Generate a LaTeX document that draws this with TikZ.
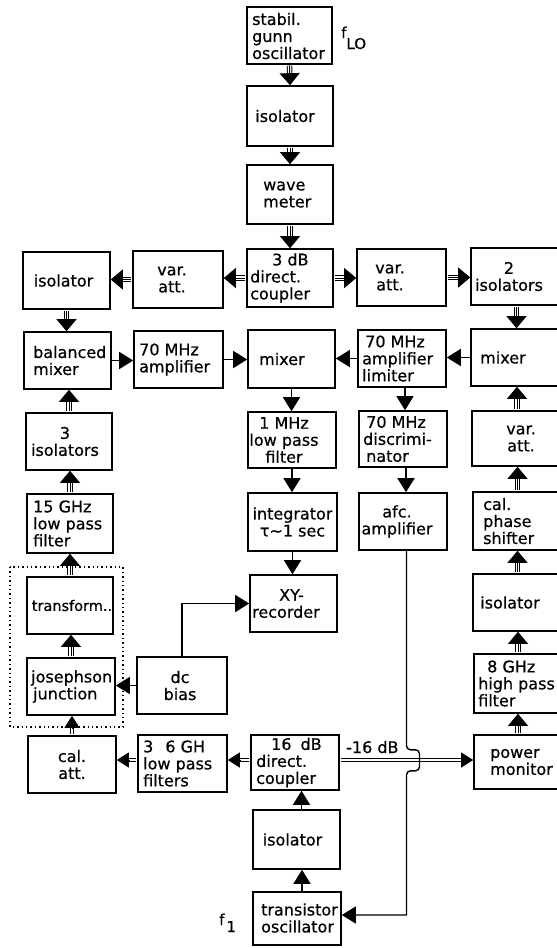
\documentclass[tikz,border=0pt]{standalone}
\usepackage{fontspec}
\setmainfont{DejaVu Sans}[FakeBold=0.6]
\usetikzlibrary{arrows.meta,calc,fit}
\newcommand\wgThree[2]{%
  \draw[wgo] ($(#1)!0.8pt!(#2)$) -- ($(#2)!11pt!(#1)$);
  \draw[wgc] ($(#1)!0.8pt!(#2)$) -- ($(#2)!11pt!(#1)$);
  \draw[wgtip] ($(#2)!12pt!(#1)$) -- (#2);}
\newcommand\wgTwo[2]{%
  \draw[wgd] ($(#1)!0.8pt!(#2)$) -- ($(#2)!10pt!(#1)$);
  \draw[wgtiptwo] ($(#2)!12pt!(#1)$) -- (#2);}
\newcommand\bx[5]{\node[box, fit={(#2,#3) (#4,#5)}] (#1) {};}
\begin{document}
\begin{tikzpicture}[x=1pt,y=-1pt,
  box/.style={draw, line width=1.6pt, inner sep=0pt},
  lbl/.style={inner sep=0pt, align=left, font=\fontsize{16}{17}\selectfont},
  lblc/.style={lbl, align=center},
  sig/.style={line width=1.4pt, -{Triangle[length=14pt,width=17pt]}},
  wgo/.style={line width=.9pt, double, double distance=3.6pt},
  wgc/.style={line width=.9pt},
  wgtip/.style={line width=.8pt, -{Triangle[length=12pt,width=20pt]}},
  wgd/.style={line width=.9pt, double, double distance=2.2pt},
  wgtiptwo/.style={line width=.8pt, -{Triangle[length=12pt,width=15pt]}},
  dotbox/.style={line width=1.4pt, dash pattern=on 1.4pt off 3pt}]
\useasboundingbox (0,0) rectangle (557,948);

% centre column
\bx{gunn}{247}{7}{332}{64}
\bx{isoa}{247}{86}{333}{146}
\bx{wave}{247}{165}{333}{224}
\bx{cplA}{247}{249}{333}{307}
\bx{mixC}{248}{330}{335}{388}
\bx{lpfA}{248}{412}{336}{468}
\bx{integ}{248}{493}{337}{551}
\bx{xyrec}{250}{575}{337}{632}
\bx{cplB}{251}{735}{339}{790}
\bx{isoB}{253}{810}{340}{869}
\bx{tosc}{253}{892}{341}{945}
% left column
\bx{isoL}{23}{252}{110}{309}
\bx{balmix}{24}{332}{111}{389}
\bx{isoT}{26}{413}{112}{470}
\bx{lpfB}{27}{494}{113}{553}
\bx{transf}{27}{577}{113}{634}
\bx{joseph}{27}{658}{115}{715}
\bx{calatt}{28}{736}{116}{793}
% second column
\bx{varL}{133}{251}{223}{308}
\bx{ampA}{134}{331}{223}{388}
\bx{dcbias}{137}{657}{227}{714}
\bx{lpfC}{138}{735}{227}{792}
% fourth column
\bx{varR}{357}{249}{446}{306}
\bx{lim}{358}{330}{446}{387}
\bx{disc}{359}{411}{447}{467}
\bx{afc}{359}{493}{447}{550}
% right column
\bx{isoTwo}{471}{248}{562}{305}
\bx{mixR}{471}{329}{562}{386}
\bx{varRR}{472}{411}{562}{466}
\bx{phase}{473}{492}{562}{550}
\bx{isoR}{473}{574}{562}{631}
\bx{hpf}{474}{654}{562}{713}
\bx{pm}{474}{735}{562}{789}

\draw[dotbox] (10,567) rectangle (123,727);

% labels
\node[lbl, anchor=west] (gunnT) at (252,36) {stabil.\\gunn\\oscillator};
\node[lblc] (isoaT) at (285,116) {isolator};
\node[lbl, anchor=west] (waveT) at (263,194.5) {wave\\meter};
\node[lbl, anchor=west] (cplAT) at (250,278) {\hspace*{22pt}3 dB\\direct.\\coupler};
\node[lbl, anchor=west] (mixCT) at (259,359) {mixer};
\node[lblc] (lpfAT) at (284,440) {1 MHz\\low pass\\filter};
\node[lblc] (integT) at (292.5,522) {integrator\\τ∼1 sec};
\node[lbl, anchor=west] (xyT) at (252,603.5) {\hspace*{27pt}XY-\\recorder};
\node[lbl, anchor=west] (cplBT) at (256,762.5) {\hspace*{15pt}16\hspace{9pt}dB\\direct.\\coupler};
\node[lblc] (isoBT) at (292.5,839.5) {isolator};
\node[lbl, anchor=west] (toscT) at (261,918) {transistor\\oscillator};

\node[lblc] (isoLT) at (63.5,280.5) {isolator};
\node[lbl, anchor=west] (balmixT) at (33,360.5) {balanced\\mixer};
\node[lblc] (isoTT) at (65,441.5) {3\\isolators};
\node[lbl, anchor=west] (lpfBT) at (33,523.5) {15 GHz\\low pass\\filter};
\node[lblc, font=\fontsize{14.5}{17}\selectfont] (transfT) at (72,605.5) {transform..};
\node[lbl, anchor=west] (josephT) at (31,686.5) {josephson\\\hspace*{2pt}junction};
\node[lblc] (calattT) at (72,764.5) {cal.\\att.};

\node[lblc] (varLT) at (172,279.5) {var.\\att.};
\node[lbl, anchor=west] (ampAT) at (139,359.5) {70 MHz\\amplifier};
\node[lblc] (dcbiasT) at (180,685.5) {dc\\bias};
\node[lbl, anchor=west] (lpfCT) at (143,763.5) {3\hspace{12pt}6 GH\\low pass\\filters};

\node[lblc] (varRT) at (390,277.5) {var.\\att.};
\node[lbl, anchor=west] (limT) at (362,358.5) {\hspace*{3pt}70 MHz\\amplifier\\limiter};
\node[lbl, anchor=west] (discT) at (363,439) {\hspace*{3pt}70 MHz\\discrimi-\\\hspace*{3pt}nator};
\node[lblc] (afcT) at (397,521.5) {afc.\\amplifier};

\node[lblc] (isoTwoT) at (509,276.5) {2\\isolators};
\node[lbl, anchor=west] (mixRT) at (480,357.5) {mixer};
\node[lblc] (varRRT) at (521,438.5) {var.\\att.};
\node[lbl, anchor=west] (phaseT) at (483,521) {cal.\\phase\\shifter};
\node[lblc] (isoRT) at (510,602.5) {isolator};
\node[lbl, anchor=west] (hpfT) at (478,683.5) {\hspace*{9pt}8 GHz\\high pass\\filter};
\node[lbl, anchor=west] (pmT) at (490,762) {power\\monitor};

\node[lbl, anchor=base west] (dbT) at (346,753) {-16 dB};
\node[anchor=base west, inner sep=0pt, font=\fontsize{15}{15}\selectfont] (fLO) at (341,38) {f\raisebox{-11pt}{LO}};
\node[anchor=base west, inner sep=0pt, font=\fontsize{15}{15}\selectfont] (fOne) at (219,925) {f\kern2pt\raisebox{-7pt}{1}};

% waveguide (triple) arrows
\wgThree{gunn.south}{isoa.north}
\wgThree{isoa.south}{wave.north}
\wgThree{wave.south}{cplA.north}
\wgThree{cplA.west}{cplA.west -| varL.east}
\wgThree{varL.west}{varL.west -| isoL.east}
\wgThree{cplA.east}{cplA.east -| varR.west}
\wgThree{varR.east}{varR.east -| isoTwo.west}
\wgThree{isoL.south}{isoL.south |- balmix.north}
\wgThree{isoTwo.south}{isoTwo.south |- mixR.north}
\wgThree{isoT.north}{isoT.north |- balmix.south}
\wgThree{lpfB.north}{lpfB.north |- isoT.south}
\wgThree{transf.north}{transf.north |- lpfB.south}
\wgThree{joseph.north}{joseph.north |- transf.south}
\wgThree{varRR.north}{varRR.north |- mixR.south}
\wgThree{phase.north}{phase.north |- varRR.south}
\wgThree{isoR.north}{isoR.north |- phase.south}
\wgThree{hpf.north}{hpf.north |- isoR.south}
\wgThree{pm.north}{pm.north |- hpf.south}

% double-line arrows
\coordinate (dy) at (0,760);
\wgTwo{calatt.north}{calatt.north |- joseph.south}
\wgTwo{cplB.west |- dy}{lpfC.east |- dy}
\wgTwo{lpfC.west |- dy}{calatt.east |- dy}
\wgTwo{cplB.east |- dy}{pm.west |- dy}

% signal arrows
\draw[sig] (balmix.east) -- (balmix.east -| ampA.west);
\draw[sig] (ampA.east) -- (ampA.east -| mixC.west);
\draw[sig] (mixR.west) -- (mixR.west -| lim.east);
\draw[sig] (lim.west) -- (lim.west -| mixC.east);
\draw[sig] (mixC.south) -- (mixC.south |- lpfA.north);
\draw[sig] (lpfA.south) -- (lpfA.south |- integ.north);
\draw[sig] (integ.south) -- (integ.south |- xyrec.north);
\coordinate (limS) at ([xshift=3pt]lim.south);
\coordinate (discS) at ([xshift=3pt]disc.south);
\draw[sig] (limS) -- (limS |- disc.north);
\draw[sig] (discS) -- (discS |- afc.north);
\coordinate (toscN) at ([xshift=5pt]tosc.north);
\coordinate (isoBN) at ([xshift=5pt]isoB.north);
\draw[sig] (toscN) -- (toscN |- isoB.south);
\draw[sig] (isoBN) -- (isoBN |- cplB.south);
\draw[sig] (dcbias.west) -- (dcbias.west -| joseph.east);
\draw[sig] (dcbias.north) |- (xyrec.west);
\coordinate (afcB) at ([xshift=3.5pt]afc.south);
\coordinate (yLow) at (0,915);
\draw[sig, rounded corners=4pt] (afcB) -- ++(0,199) -- ++(13,0) -- ++(0,21) -- ++(-13,0) [sharp corners] -- (afcB |- yLow) -- (tosc.east |- yLow);
\end{tikzpicture}
\end{document}
